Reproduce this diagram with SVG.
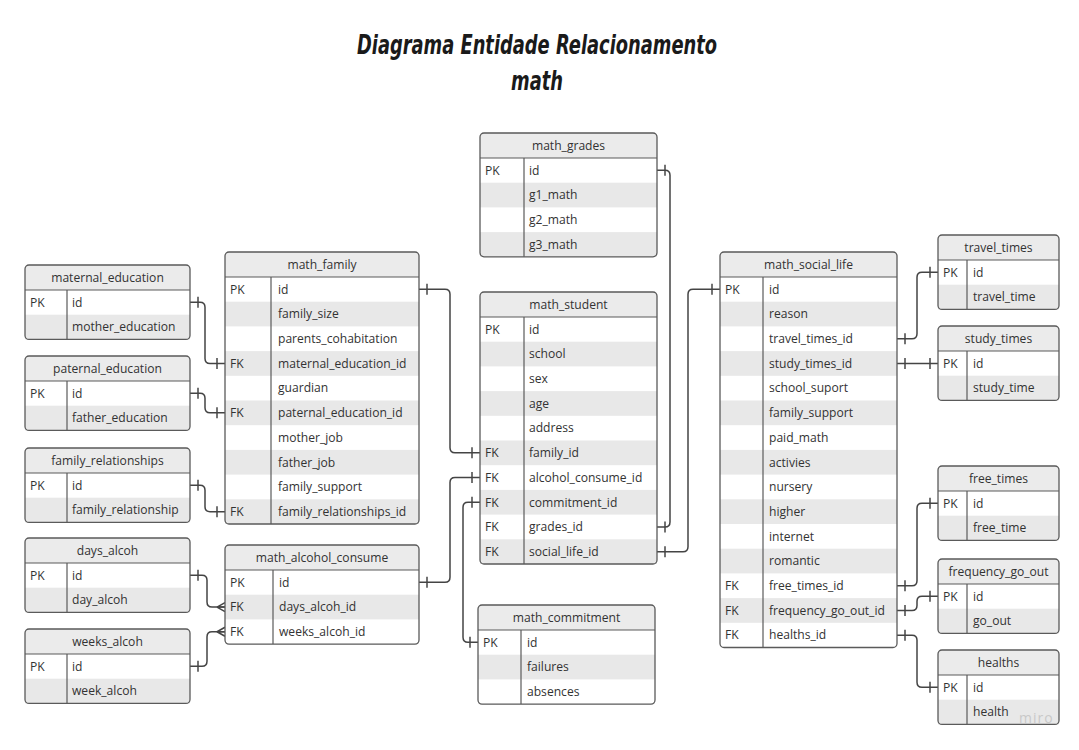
<svg xmlns="http://www.w3.org/2000/svg" width="1079" height="750" viewBox="0 0 1079 750">
<style>
.bg{fill:#fff}
.hd{fill:#ebebeb}
.z{fill:#e8e8e8}
.ol{fill:none;stroke:#5a5a5a;stroke-width:1.3}
.ln{stroke:#5a5a5a;stroke-width:1.2;fill:none}
text{font-family:"Open Sans","DejaVu Sans",sans-serif;font-size:12.1px;fill:#333}
.h{text-anchor:middle}
.ttl{font-family:"DejaVu Sans",sans-serif;font-style:italic;font-weight:bold;font-size:27px;fill:#1a1a1a;text-anchor:middle}
.cn path{fill:none;stroke:#444;stroke-width:1.5}
.mk{fill:none;stroke:#444;stroke-width:1.5}
.wm{font-family:"Open Sans",sans-serif;font-size:14px;fill:#c8c8c8;letter-spacing:1px}
</style>
<defs>
<marker id="one" markerUnits="userSpaceOnUse" markerWidth="20" markerHeight="20" viewBox="-10 -10 20 20" refX="0" refY="0" orient="auto-start-reverse" overflow="visible">
<path class="mk" d="M-8,-5.5 V5.5"/>
</marker>
<marker id="many" markerUnits="userSpaceOnUse" markerWidth="20" markerHeight="20" viewBox="-10 -10 20 20" refX="0" refY="0" orient="auto" overflow="visible">
<path class="mk" d="M-8,0 L0,-4.5 M-8,0 L0,0 M-8,0 L0,4.5"/>
</marker>
</defs>
<rect width="1079" height="750" fill="#fff"/>
<g id="title">
<text class="ttl" x="537" y="54" textLength="360" lengthAdjust="spacingAndGlyphs">Diagrama Entidade Relacionamento</text>
<text class="ttl" x="537" y="90" textLength="52" lengthAdjust="spacingAndGlyphs">math</text>
</g>

<g class="cn" id="connectors">
<path marker-start="url(#one)" marker-end="url(#one)" d="M190,302.35 H200 Q205,302.35 205,307.35 V358.45 Q205,363.45 210,363.45 H225"/>
<path marker-start="url(#one)" marker-end="url(#one)" d="M190,393.35 H200 Q205,393.35 205,398.35 V407.85 Q205,412.85 210,412.85 H225"/>
<path marker-start="url(#one)" marker-end="url(#one)" d="M190,485.35 H200 Q205,485.35 205,490.35 V506.65 Q205,511.65 210,511.65 H225"/>
<path marker-start="url(#one)" marker-end="url(#many)" d="M190,575.35 H202 Q207,575.35 207,580.35 V602.05 Q207,607.05 212,607.05 H225"/>
<path marker-start="url(#one)" marker-end="url(#many)" d="M190,666.35 H202 Q207,666.35 207,661.35 V636.75 Q207,631.75 212,631.75 H225"/>
<path marker-start="url(#one)" marker-end="url(#one)" d="M419,289.35 H445 Q450,289.35 450,294.35 V447.85 Q450,452.85 455,452.85 H480"/>
<path marker-start="url(#one)" marker-end="url(#one)" d="M419,582.35 H445 Q450,582.35 450,577.35 V482.55 Q450,477.55 455,477.55 H480"/>
<path marker-start="url(#one)" marker-end="url(#one)" d="M480,502.25 H468 Q463,502.25 463,507.25 V637.35 Q463,642.35 468,642.35 H478"/>
<path marker-start="url(#one)" marker-end="url(#one)" d="M657,170.35 H665 Q670,170.35 670,175.35 V521.95 Q670,526.95 665,526.95 H657"/>
<path marker-start="url(#one)" marker-end="url(#one)" d="M657,551.65 H683 Q688,551.65 688,546.65 V294.35 Q688,289.35 693,289.35 H720"/>
<path marker-start="url(#one)" marker-end="url(#one)" d="M897,338.75 H912 Q917,338.75 917,333.75 V277.35 Q917,272.35 922,272.35 H938"/>
<path marker-start="url(#one)" marker-end="url(#one)" d="M897,363.4 H938"/>
<path marker-start="url(#one)" marker-end="url(#one)" d="M897,585.85 H912 Q917,585.85 917,580.85 V508.35 Q917,503.35 922,503.35 H938"/>
<path marker-start="url(#one)" marker-end="url(#one)" d="M897,610.55 H912 Q917,610.55 917,605.55 V601.35 Q917,596.35 922,596.35 H938"/>
<path marker-start="url(#one)" marker-end="url(#one)" d="M897,635.25 H912 Q917,635.25 917,640.25 V682.35 Q917,687.35 922,687.35 H938"/>
</g>

<g id="maternal_education">
<rect class="bg" x="25" y="265" width="165" height="74.4" rx="4"/>
<path class="hd" d="M25,290 V269 Q25,265 29,265 H186 Q190,265 190,269 V290 Z"/>
<rect class="z" x="25" y="314.7" width="165" height="24.7"/>
<line class="ln" x1="25" y1="290" x2="190" y2="290"/>
<line class="ln" x1="67" y1="290" x2="67" y2="339.4"/>
<rect class="ol" x="25" y="265" width="165" height="74.4" rx="4"/>
<text class="h" x="107.5" y="282">maternal_education</text>
<text x="30" y="306.6">PK</text><text x="72" y="306.6">id</text>
<text x="72" y="331.3">mother_education</text>
</g>

<g id="paternal_education">
<rect class="bg" x="25" y="356" width="165" height="74.4" rx="4"/>
<path class="hd" d="M25,381 V360 Q25,356 29,356 H186 Q190,356 190,360 V381 Z"/>
<rect class="z" x="25" y="405.7" width="165" height="24.7"/>
<line class="ln" x1="25" y1="381" x2="190" y2="381"/>
<line class="ln" x1="67" y1="381" x2="67" y2="430.4"/>
<rect class="ol" x="25" y="356" width="165" height="74.4" rx="4"/>
<text class="h" x="107.5" y="373">paternal_education</text>
<text x="30" y="397.6">PK</text><text x="72" y="397.6">id</text>
<text x="72" y="422.3">father_education</text>
</g>

<g id="family_relationships">
<rect class="bg" x="25" y="448" width="165" height="74.4" rx="4"/>
<path class="hd" d="M25,473 V452 Q25,448 29,448 H186 Q190,448 190,452 V473 Z"/>
<rect class="z" x="25" y="497.7" width="165" height="24.7"/>
<line class="ln" x1="25" y1="473" x2="190" y2="473"/>
<line class="ln" x1="67" y1="473" x2="67" y2="522.4"/>
<rect class="ol" x="25" y="448" width="165" height="74.4" rx="4"/>
<text class="h" x="107.5" y="465">family_relationships</text>
<text x="30" y="489.6">PK</text><text x="72" y="489.6">id</text>
<text x="72" y="514.3">family_relationship</text>
</g>

<g id="days_alcoh">
<rect class="bg" x="25" y="538" width="165" height="74.4" rx="4"/>
<path class="hd" d="M25,563 V542 Q25,538 29,538 H186 Q190,538 190,542 V563 Z"/>
<rect class="z" x="25" y="587.7" width="165" height="24.7"/>
<line class="ln" x1="25" y1="563" x2="190" y2="563"/>
<line class="ln" x1="67" y1="563" x2="67" y2="612.4"/>
<rect class="ol" x="25" y="538" width="165" height="74.4" rx="4"/>
<text class="h" x="107.5" y="555">days_alcoh</text>
<text x="30" y="579.6">PK</text><text x="72" y="579.6">id</text>
<text x="72" y="604.3">day_alcoh</text>
</g>

<g id="weeks_alcoh">
<rect class="bg" x="25" y="629" width="165" height="74.4" rx="4"/>
<path class="hd" d="M25,654 V633 Q25,629 29,629 H186 Q190,629 190,633 V654 Z"/>
<rect class="z" x="25" y="678.7" width="165" height="24.7"/>
<line class="ln" x1="25" y1="654" x2="190" y2="654"/>
<line class="ln" x1="67" y1="654" x2="67" y2="703.4"/>
<rect class="ol" x="25" y="629" width="165" height="74.4" rx="4"/>
<text class="h" x="107.5" y="646">weeks_alcoh</text>
<text x="30" y="670.6">PK</text><text x="72" y="670.6">id</text>
<text x="72" y="695.3">week_alcoh</text>
</g>

<g id="math_family">
<rect class="bg" x="225" y="252" width="194" height="272" rx="4"/>
<path class="hd" d="M225,277 V256 Q225,252 229,252 H415 Q419,252 419,256 V277 Z"/>
<rect class="z" x="225" y="301.7" width="194" height="24.7"/>
<rect class="z" x="225" y="351.1" width="194" height="24.7"/>
<rect class="z" x="225" y="400.5" width="194" height="24.7"/>
<rect class="z" x="225" y="449.9" width="194" height="24.7"/>
<rect class="z" x="225" y="499.3" width="194" height="24.7"/>
<line class="ln" x1="225" y1="277" x2="419" y2="277"/>
<line class="ln" x1="271" y1="277" x2="271" y2="524"/>
<rect class="ol" x="225" y="252" width="194" height="272" rx="4"/>
<text class="h" x="322" y="269">math_family</text>
<text x="230" y="293.6">PK</text><text x="278" y="293.6">id</text>
<text x="278" y="318.3">family_size</text>
<text x="278" y="343">parents_cohabitation</text>
<text x="230" y="367.7">FK</text><text x="278" y="367.7">maternal_education_id</text>
<text x="278" y="392.4">guardian</text>
<text x="230" y="417.1">FK</text><text x="278" y="417.1">paternal_education_id</text>
<text x="278" y="441.8">mother_job</text>
<text x="278" y="466.5">father_job</text>
<text x="278" y="491.2">family_support</text>
<text x="230" y="515.9">FK</text><text x="278" y="515.9">family_relationships_id</text>
</g>

<g id="math_alcohol_consume">
<rect class="bg" x="225" y="545" width="194" height="99.1" rx="4"/>
<path class="hd" d="M225,570 V549 Q225,545 229,545 H415 Q419,545 419,549 V570 Z"/>
<rect class="z" x="225" y="594.7" width="194" height="24.7"/>
<line class="ln" x1="225" y1="570" x2="419" y2="570"/>
<line class="ln" x1="273" y1="570" x2="273" y2="644.1"/>
<rect class="ol" x="225" y="545" width="194" height="99.1" rx="4"/>
<text class="h" x="322" y="562">math_alcohol_consume</text>
<text x="230" y="586.6">PK</text><text x="279" y="586.6">id</text>
<text x="230" y="611.3">FK</text><text x="279" y="611.3">days_alcoh_id</text>
<text x="230" y="636">FK</text><text x="279" y="636">weeks_alcoh_id</text>
</g>

<g id="math_grades">
<rect class="bg" x="480" y="133" width="177" height="123.8" rx="4"/>
<path class="hd" d="M480,158 V137 Q480,133 484,133 H653 Q657,133 657,137 V158 Z"/>
<rect class="z" x="480" y="182.7" width="177" height="24.7"/>
<rect class="z" x="480" y="232.1" width="177" height="24.7"/>
<line class="ln" x1="480" y1="158" x2="657" y2="158"/>
<line class="ln" x1="524" y1="158" x2="524" y2="256.8"/>
<rect class="ol" x="480" y="133" width="177" height="123.8" rx="4"/>
<text class="h" x="568.5" y="150">math_grades</text>
<text x="485" y="174.6">PK</text><text x="529" y="174.6">id</text>
<text x="529" y="199.3">g1_math</text>
<text x="529" y="224">g2_math</text>
<text x="529" y="248.7">g3_math</text>
</g>

<g id="math_student">
<rect class="bg" x="480" y="292" width="177" height="272" rx="4"/>
<path class="hd" d="M480,317 V296 Q480,292 484,292 H653 Q657,292 657,296 V317 Z"/>
<rect class="z" x="480" y="341.7" width="177" height="24.7"/>
<rect class="z" x="480" y="391.1" width="177" height="24.7"/>
<rect class="z" x="480" y="440.5" width="177" height="24.7"/>
<rect class="z" x="480" y="489.9" width="177" height="24.7"/>
<rect class="z" x="480" y="539.3" width="177" height="24.7"/>
<line class="ln" x1="480" y1="317" x2="657" y2="317"/>
<line class="ln" x1="524" y1="317" x2="524" y2="564"/>
<rect class="ol" x="480" y="292" width="177" height="272" rx="4"/>
<text class="h" x="568.5" y="309">math_student</text>
<text x="485" y="333.6">PK</text><text x="529" y="333.6">id</text>
<text x="529" y="358.3">school</text>
<text x="529" y="383">sex</text>
<text x="529" y="407.7">age</text>
<text x="529" y="432.4">address</text>
<text x="485" y="457.1">FK</text><text x="529" y="457.1">family_id</text>
<text x="485" y="481.8">FK</text><text x="529" y="481.8">alcohol_consume_id</text>
<text x="485" y="506.5">FK</text><text x="529" y="506.5">commitment_id</text>
<text x="485" y="531.2">FK</text><text x="529" y="531.2">grades_id</text>
<text x="485" y="555.9">FK</text><text x="529" y="555.9">social_life_id</text>
</g>

<g id="math_commitment">
<rect class="bg" x="478" y="605" width="177" height="99.1" rx="4"/>
<path class="hd" d="M478,630 V609 Q478,605 482,605 H651 Q655,605 655,609 V630 Z"/>
<rect class="z" x="478" y="654.7" width="177" height="24.7"/>
<line class="ln" x1="478" y1="630" x2="655" y2="630"/>
<line class="ln" x1="521" y1="630" x2="521" y2="704.1"/>
<rect class="ol" x="478" y="605" width="177" height="99.1" rx="4"/>
<text class="h" x="566.5" y="622">math_commitment</text>
<text x="483" y="646.6">PK</text><text x="527" y="646.6">id</text>
<text x="527" y="671.3">failures</text>
<text x="527" y="696">absences</text>
</g>

<g id="math_social_life">
<rect class="bg" x="720" y="252" width="177" height="395.5" rx="4"/>
<path class="hd" d="M720,277 V256 Q720,252 724,252 H893 Q897,252 897,256 V277 Z"/>
<rect class="z" x="720" y="301.7" width="177" height="24.7"/>
<rect class="z" x="720" y="351.1" width="177" height="24.7"/>
<rect class="z" x="720" y="400.5" width="177" height="24.7"/>
<rect class="z" x="720" y="449.9" width="177" height="24.7"/>
<rect class="z" x="720" y="499.3" width="177" height="24.7"/>
<rect class="z" x="720" y="548.7" width="177" height="24.7"/>
<rect class="z" x="720" y="598.1" width="177" height="24.7"/>
<line class="ln" x1="720" y1="277" x2="897" y2="277"/>
<line class="ln" x1="763" y1="277" x2="763" y2="647.5"/>
<rect class="ol" x="720" y="252" width="177" height="395.5" rx="4"/>
<text class="h" x="808.5" y="269">math_social_life</text>
<text x="725" y="293.6">PK</text><text x="769" y="293.6">id</text>
<text x="769" y="318.3">reason</text>
<text x="769" y="343">travel_times_id</text>
<text x="769" y="367.7">study_times_id</text>
<text x="769" y="392.4">school_suport</text>
<text x="769" y="417.1">family_support</text>
<text x="769" y="441.8">paid_math</text>
<text x="769" y="466.5">activies</text>
<text x="769" y="491.2">nursery</text>
<text x="769" y="515.9">higher</text>
<text x="769" y="540.6">internet</text>
<text x="769" y="565.3">romantic</text>
<text x="725" y="590">FK</text><text x="769" y="590">free_times_id</text>
<text x="725" y="614.7">FK</text><text x="769" y="614.7">frequency_go_out_id</text>
<text x="725" y="639.4">FK</text><text x="769" y="639.4">healths_id</text>
</g>

<g id="travel_times">
<rect class="bg" x="938" y="235" width="121" height="74.4" rx="4"/>
<path class="hd" d="M938,260 V239 Q938,235 942,235 H1055 Q1059,235 1059,239 V260 Z"/>
<rect class="z" x="938" y="284.7" width="121" height="24.7"/>
<line class="ln" x1="938" y1="260" x2="1059" y2="260"/>
<line class="ln" x1="967" y1="260" x2="967" y2="309.4"/>
<rect class="ol" x="938" y="235" width="121" height="74.4" rx="4"/>
<text class="h" x="998.5" y="252">travel_times</text>
<text x="943" y="276.6">PK</text><text x="973" y="276.6">id</text>
<text x="973" y="301.3">travel_time</text>
</g>

<g id="study_times">
<rect class="bg" x="938" y="326" width="121" height="74.4" rx="4"/>
<path class="hd" d="M938,351 V330 Q938,326 942,326 H1055 Q1059,326 1059,330 V351 Z"/>
<rect class="z" x="938" y="375.7" width="121" height="24.7"/>
<line class="ln" x1="938" y1="351" x2="1059" y2="351"/>
<line class="ln" x1="967" y1="351" x2="967" y2="400.4"/>
<rect class="ol" x="938" y="326" width="121" height="74.4" rx="4"/>
<text class="h" x="998.5" y="343">study_times</text>
<text x="943" y="367.6">PK</text><text x="973" y="367.6">id</text>
<text x="973" y="392.3">study_time</text>
</g>

<g id="free_times">
<rect class="bg" x="938" y="466" width="121" height="74.4" rx="4"/>
<path class="hd" d="M938,491 V470 Q938,466 942,466 H1055 Q1059,466 1059,470 V491 Z"/>
<rect class="z" x="938" y="515.7" width="121" height="24.7"/>
<line class="ln" x1="938" y1="491" x2="1059" y2="491"/>
<line class="ln" x1="967" y1="491" x2="967" y2="540.4"/>
<rect class="ol" x="938" y="466" width="121" height="74.4" rx="4"/>
<text class="h" x="998.5" y="483">free_times</text>
<text x="943" y="507.6">PK</text><text x="973" y="507.6">id</text>
<text x="973" y="532.3">free_time</text>
</g>

<g id="frequency_go_out">
<rect class="bg" x="938" y="559" width="121" height="74.4" rx="4"/>
<path class="hd" d="M938,584 V563 Q938,559 942,559 H1055 Q1059,559 1059,563 V584 Z"/>
<rect class="z" x="938" y="608.7" width="121" height="24.7"/>
<line class="ln" x1="938" y1="584" x2="1059" y2="584"/>
<line class="ln" x1="967" y1="584" x2="967" y2="633.4"/>
<rect class="ol" x="938" y="559" width="121" height="74.4" rx="4"/>
<text class="h" x="998.5" y="576">frequency_go_out</text>
<text x="943" y="600.6">PK</text><text x="973" y="600.6">id</text>
<text x="973" y="625.3">go_out</text>
</g>

<g id="healths">
<rect class="bg" x="938" y="650" width="121" height="74.4" rx="4"/>
<path class="hd" d="M938,675 V654 Q938,650 942,650 H1055 Q1059,650 1059,654 V675 Z"/>
<rect class="z" x="938" y="699.7" width="121" height="24.7"/>
<line class="ln" x1="938" y1="675" x2="1059" y2="675"/>
<line class="ln" x1="967" y1="675" x2="967" y2="724.4"/>
<rect class="ol" x="938" y="650" width="121" height="74.4" rx="4"/>
<text class="h" x="998.5" y="667">healths</text>
<text x="943" y="691.6">PK</text><text x="973" y="691.6">id</text>
<text x="973" y="716.3">health</text>
</g>

<text class="wm" x="1019" y="723">miro</text>
</svg>
